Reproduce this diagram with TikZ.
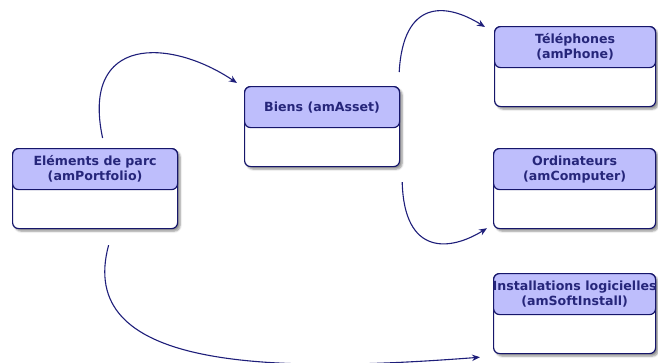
\documentclass[tikz,border=0pt]{standalone}
\usepackage{fontspec}
\setmainfont{DejaVu Sans}
\usetikzlibrary{shadows.blur,arrows.meta}
\definecolor{navy}{HTML}{16166A}
\definecolor{hdrfill}{HTML}{BEBEFC}
\definecolor{txtcol}{HTML}{26267A}
\definecolor{linkcol}{HTML}{1E1E7A}
\tikzset{
  bodybox/.style={draw=navy, fill=white, line width=1.2pt, rounded corners=6pt,
    minimum height=80pt, anchor=north west, inner sep=0pt,
    blur shadow={shadow xshift=2.5pt, shadow yshift=-2.5pt, shadow blur steps=6,
      shadow blur radius=2pt, shadow opacity=45}},
  headbox/.style={draw=navy, fill=hdrfill, line width=1.2pt, rounded corners=6pt,
    minimum height=41pt, anchor=north west, inner sep=0pt},
  title/.style={inner sep=0pt, align=center, text=txtcol,
    font=\fontsize{12.6}{15}\selectfont\bfseries},
  link/.style={draw=linkcol, line width=1.1pt,
    -{Stealth[length=8pt,width=6.5pt]}},
}
\begin{document}
\begin{tikzpicture}[x=1pt, y=-1pt]
\useasboundingbox (0,0) rectangle (658,362);

% tables: white body, lavender header, centred title
\node[bodybox, minimum width=165pt] (parc) at (12,148) {};
\node[headbox, minimum width=165pt] (parcH) at (parc.north west) {};
\node[title] (parcT) at (parcH.center) {Eléments de parc\\(amPortfolio)};

\node[bodybox, minimum width=155pt] (biens) at (244,86) {};
\node[headbox, minimum width=155pt] (biensH) at (biens.north west) {};
\node[title] (biensT) at (biensH.center) {Biens (amAsset)};

\node[bodybox, minimum width=161pt] (phone) at (494,26) {};
\node[headbox, minimum width=161pt] (phoneH) at (phone.north west) {};
\node[title] (phoneT) at (phoneH.center) {Téléphones\\(amPhone)};

\node[bodybox, minimum width=162pt] (comp) at (493,148) {};
\node[headbox, minimum width=162pt] (compH) at (comp.north west) {};
\node[title] (compT) at (compH.center) {Ordinateurs\\(amComputer)};

\node[bodybox, minimum width=162pt] (soft) at (493,273) {};
\node[headbox, minimum width=162pt] (softH) at (soft.north west) {};
\node[title] (softT) at (softH.center) {Installations logicielles\\(amSoftInstall)};

% links
\draw[link] ([xshift=7.5pt,yshift=10pt]parc.north)
  .. controls +(-22,-103) and +(-67,-45) .. ([xshift=-7pt,yshift=3pt]biens.north west);
\draw[link] ([xshift=-1pt,yshift=14pt]biens.north east)
  .. controls +(4,-72) and +(-40,-25) .. ([xshift=-9pt,yshift=-1pt]phone.north west);
\draw[link] ([xshift=2pt,yshift=-15pt]biens.south east)
  .. controls +(2,74) and +(-37,23) .. ([xshift=-6pt,yshift=1pt]comp.south west);
\draw[link] ([xshift=13.5pt,yshift=-16pt]parc.south)
  .. controls +(-33,122) and +(-220,17) .. ([xshift=-13pt,yshift=-3pt]soft.south west);
\end{tikzpicture}
\end{document}
